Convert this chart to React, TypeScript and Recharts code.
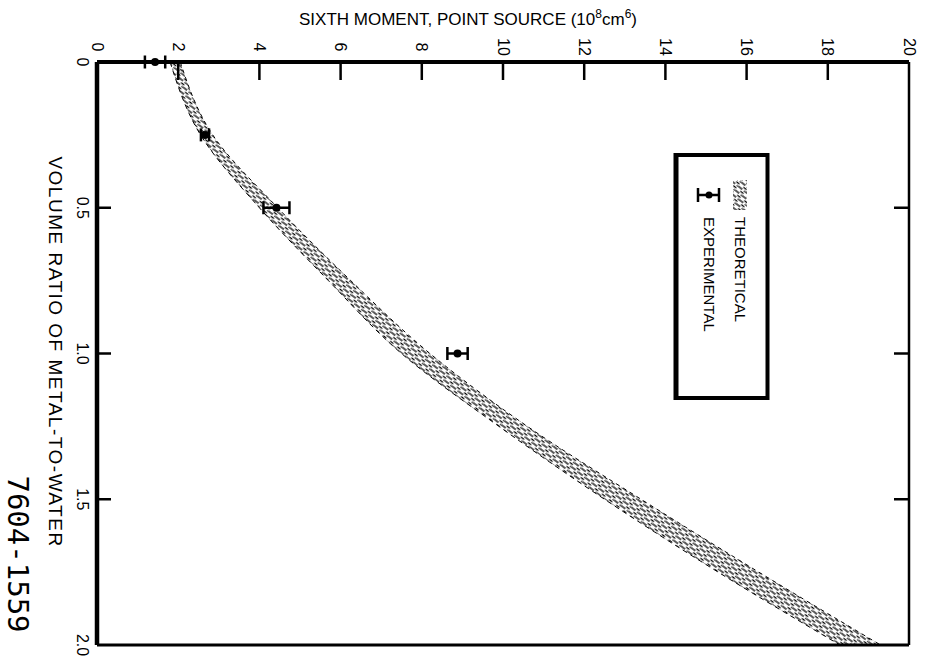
import { Area, ComposedChart, ErrorBar, Legend, Line, XAxis, YAxis } from 'recharts';

// volume ratio of metal-to-water (vertical axis, grows downward)
const ratios = [0, 0.25, 0.5, 0.75, 1.0, 1.25, 1.5, 1.75, 2.0];
// theoretical band edges, sixth moment in 1e8 cm^6
const theoryLow = [1.8, 2.55, 4.0, 5.7, 7.5, 9.9, 12.5, 15.3, 18.3];
const theoryHigh = [2.05, 2.85, 4.45, 6.25, 8.2, 10.6, 13.4, 16.3, 19.3];

// measured points with horizontal error bars
const expRatios = [0, 0.25, 0.5, 1.0];
const expMoment = [1.43, 2.66, 4.42, 8.88];
const expError = [0.25, 0.1, 0.32, 0.25];

const momentTicks = [0, 2, 4, 6, 8, 10, 12, 14, 16, 18, 20];
const ratioTicks = [0, 0.5, 1.0, 1.5, 2.0];

const data = ratios.map((r, i) => {
  const j = expRatios.indexOf(r);
  return {
    ratio: r,
    band: [theoryLow[i], theoryHigh[i]],
    lo: theoryLow[i],
    hi: theoryHigh[i],
    exp: j >= 0 ? expMoment[j] : null,
    expErr: j >= 0 ? expError[j] : null,
  };
});

const FONT = '"Liberation Sans", Arial, sans-serif';

function TopTick(props: any) {
  const { x, y, payload } = props;
  const v = payload.value;
  const ly = y - 15;
  return (
    <g>
      {v > 0 && v < 20 && <line x1={x} y1={y} x2={x} y2={y + 18} stroke="#000" strokeWidth={2.5} />}
      <text
        x={x}
        y={ly}
        transform={`rotate(90 ${x} ${ly})`}
        textAnchor="middle"
        dominantBaseline="central"
        fontFamily={FONT}
        fontSize={16}
        fill="#000"
      >
        {v}
      </text>
    </g>
  );
}

function BottomTick(props: any) {
  const { x, y, payload } = props;
  const v = payload.value;
  if (v <= 0 || v >= 20) return <g />;
  return <line x1={x} y1={y} x2={x} y2={y - 18} stroke="#000" strokeWidth={2.5} />;
}

function LeftTick(props: any) {
  const { x, y, payload } = props;
  const v = payload.value;
  const lx = x - 15;
  const label = v === 0 ? '0' : v.toFixed(1);
  return (
    <g>
      {v > 0 && v < 2 && <line x1={x} y1={y} x2={x + 14} y2={y} stroke="#000" strokeWidth={2.5} />}
      <text
        x={lx}
        y={y}
        transform={`rotate(90 ${lx} ${y})`}
        textAnchor="middle"
        dominantBaseline="central"
        fontFamily={FONT}
        fontSize={16}
        fill="#000"
      >
        {label}
      </text>
    </g>
  );
}

function RightTick(props: any) {
  const { x, y, payload } = props;
  const v = payload.value;
  if (v <= 0 || v >= 2) return <g />;
  return <line x1={x} y1={y} x2={x - 15} y2={y} stroke="#000" strokeWidth={2.5} />;
}

function LegendBox() {
  return (
    <svg width={97} height={247} style={{ display: 'block' }}>
      <rect x={2.5} y={2} width={92} height={243} fill="#fff" stroke="#000" strokeWidth={4} />
      <rect x={2.5} y={2} width={3} height={243} fill="#000" />
      <rect x={60} y={27} width={14} height={30} fill="url(#stipple)" />
      <text
        x={67}
        y={64}
        transform="rotate(90 67 64)"
        dominantBaseline="central"
        fontFamily={FONT}
        fontSize={15}
        fill="#000"
      >
        THEORETICAL
      </text>
      <g stroke="#000" strokeWidth={2.5}>
        <line x1={25} y1={42} x2={46} y2={42} />
        <line x1={25} y1={35} x2={25} y2={49} />
        <line x1={46} y1={35} x2={46} y2={49} />
      </g>
      <circle cx={36} cy={42} r={3.5} fill="#000" />
      <text
        x={36}
        y={64}
        transform="rotate(90 36 64)"
        dominantBaseline="central"
        fontFamily={FONT}
        fontSize={15}
        fill="#000"
      >
        EXPERIMENTAL
      </text>
    </svg>
  );
}

export default function App() {
  return (
    <div style={{ position: 'absolute', left: 0, top: 0, width: 927, height: 660, background: '#fff' }}>
      <svg width={0} height={0} style={{ position: 'absolute' }}>
        <defs>
          {/* short slanted dashes for the theoretical band */}
          <pattern
            id="stipple"
            patternUnits="userSpaceOnUse"
            width={9}
            height={5}
            patternTransform="rotate(38)"
          >
            <line x1={0} y1={1} x2={5} y2={1} stroke="#000" strokeWidth={1.3} />
            <line x1={4.5} y1={3.6} x2={8.5} y2={3.6} stroke="#000" strokeWidth={1.3} />
            <line x1={7} y1={1.2} x2={9} y2={1.2} stroke="#000" strokeWidth={1} />
          </pattern>
        </defs>
      </svg>

      <ComposedChart
        width={927}
        height={660}
        layout="vertical"
        data={data}
        margin={{ top: 22, right: 8, bottom: 5, left: 57 }}
      >
        <XAxis
          xAxisId="t"
          orientation="top"
          type="number"
          domain={[0, 20]}
          ticks={momentTicks}
          height={40}
          tickSize={0}
          tickMargin={0}
          tickLine={false}
          tick={<TopTick />}
          axisLine={{ stroke: '#000', strokeWidth: 4 }}
        />
        <XAxis
          xAxisId="b"
          orientation="bottom"
          type="number"
          domain={[0, 20]}
          ticks={momentTicks}
          height={10}
          tickSize={0}
          tickMargin={0}
          tickLine={false}
          tick={<BottomTick />}
          axisLine={{ stroke: '#000', strokeWidth: 3 }}
        />
        <YAxis
          yAxisId="l"
          orientation="left"
          type="number"
          dataKey="ratio"
          domain={[0, 2]}
          ticks={ratioTicks}
          width={40}
          tickSize={0}
          tickMargin={0}
          tickLine={false}
          tick={<LeftTick />}
          axisLine={{ stroke: '#000', strokeWidth: 4.5 }}
        />
        <YAxis
          yAxisId="r"
          orientation="right"
          type="number"
          dataKey="ratio"
          domain={[0, 2]}
          ticks={ratioTicks}
          width={10}
          tickSize={0}
          tickMargin={0}
          tickLine={false}
          tick={<RightTick />}
          axisLine={{ stroke: '#000', strokeWidth: 2.5 }}
        />
        <Area
          xAxisId="t"
          yAxisId="l"
          dataKey="band"
          type="monotone"
          fill="url(#stipple)"
          fillOpacity={1}
          stroke="none"
          isAnimationActive={false}
        />
        <Line
          xAxisId="t"
          yAxisId="l"
          dataKey="lo"
          type="monotone"
          stroke="#000"
          strokeWidth={1}
          strokeDasharray="5 4"
          dot={false}
          activeDot={false}
          isAnimationActive={false}
        />
        <Line
          xAxisId="t"
          yAxisId="l"
          dataKey="hi"
          type="monotone"
          stroke="#000"
          strokeWidth={1}
          strokeDasharray="4 4"
          dot={false}
          activeDot={false}
          isAnimationActive={false}
        />
        <Line
          xAxisId="t"
          yAxisId="l"
          dataKey="exp"
          stroke="none"
          dot={{ r: 4, fill: '#000', stroke: 'none' }}
          activeDot={false}
          isAnimationActive={false}
        >
          <ErrorBar dataKey="expErr" direction="x" width={6.5} stroke="#000" strokeWidth={2.5} />
        </Line>
        <Legend
          layout="horizontal"
          verticalAlign="middle"
          align="center"
          content={() => <LegendBox />}
          wrapperStyle={{ position: 'absolute', left: 673, top: 153, width: 97, height: 247 }}
        />
      </ComposedChart>

      <svg
        width={927}
        height={660}
        style={{ position: 'absolute', left: 0, top: 0, pointerEvents: 'none' }}
      >
        <text x={468} y={25} textAnchor="middle" fontFamily={FONT} fontSize={17} fill="#000">
          SIXTH MOMENT, POINT SOURCE (10
          <tspan dy={-7} fontSize={12}>8</tspan>
          <tspan dy={7}>cm</tspan>
          <tspan dy={-7} fontSize={12}>6</tspan>
          <tspan dy={7}>)</tspan>
        </text>
        <text
          x={55}
          y={352}
          transform="rotate(90 55 352)"
          textAnchor="middle"
          dominantBaseline="central"
          fontFamily={FONT}
          fontSize={19}
          letterSpacing={1.5}
          fill="#000"
        >
          VOLUME RATIO OF METAL-TO-WATER
        </text>
        <text
          x={18}
          y={554}
          transform="rotate(90 18 554)"
          textAnchor="middle"
          dominantBaseline="central"
          fontFamily='"DejaVu Sans Mono", monospace'
          fontSize={29}
          fill="#000"
        >
          7604-1559
        </text>
      </svg>
    </div>
  );
}
